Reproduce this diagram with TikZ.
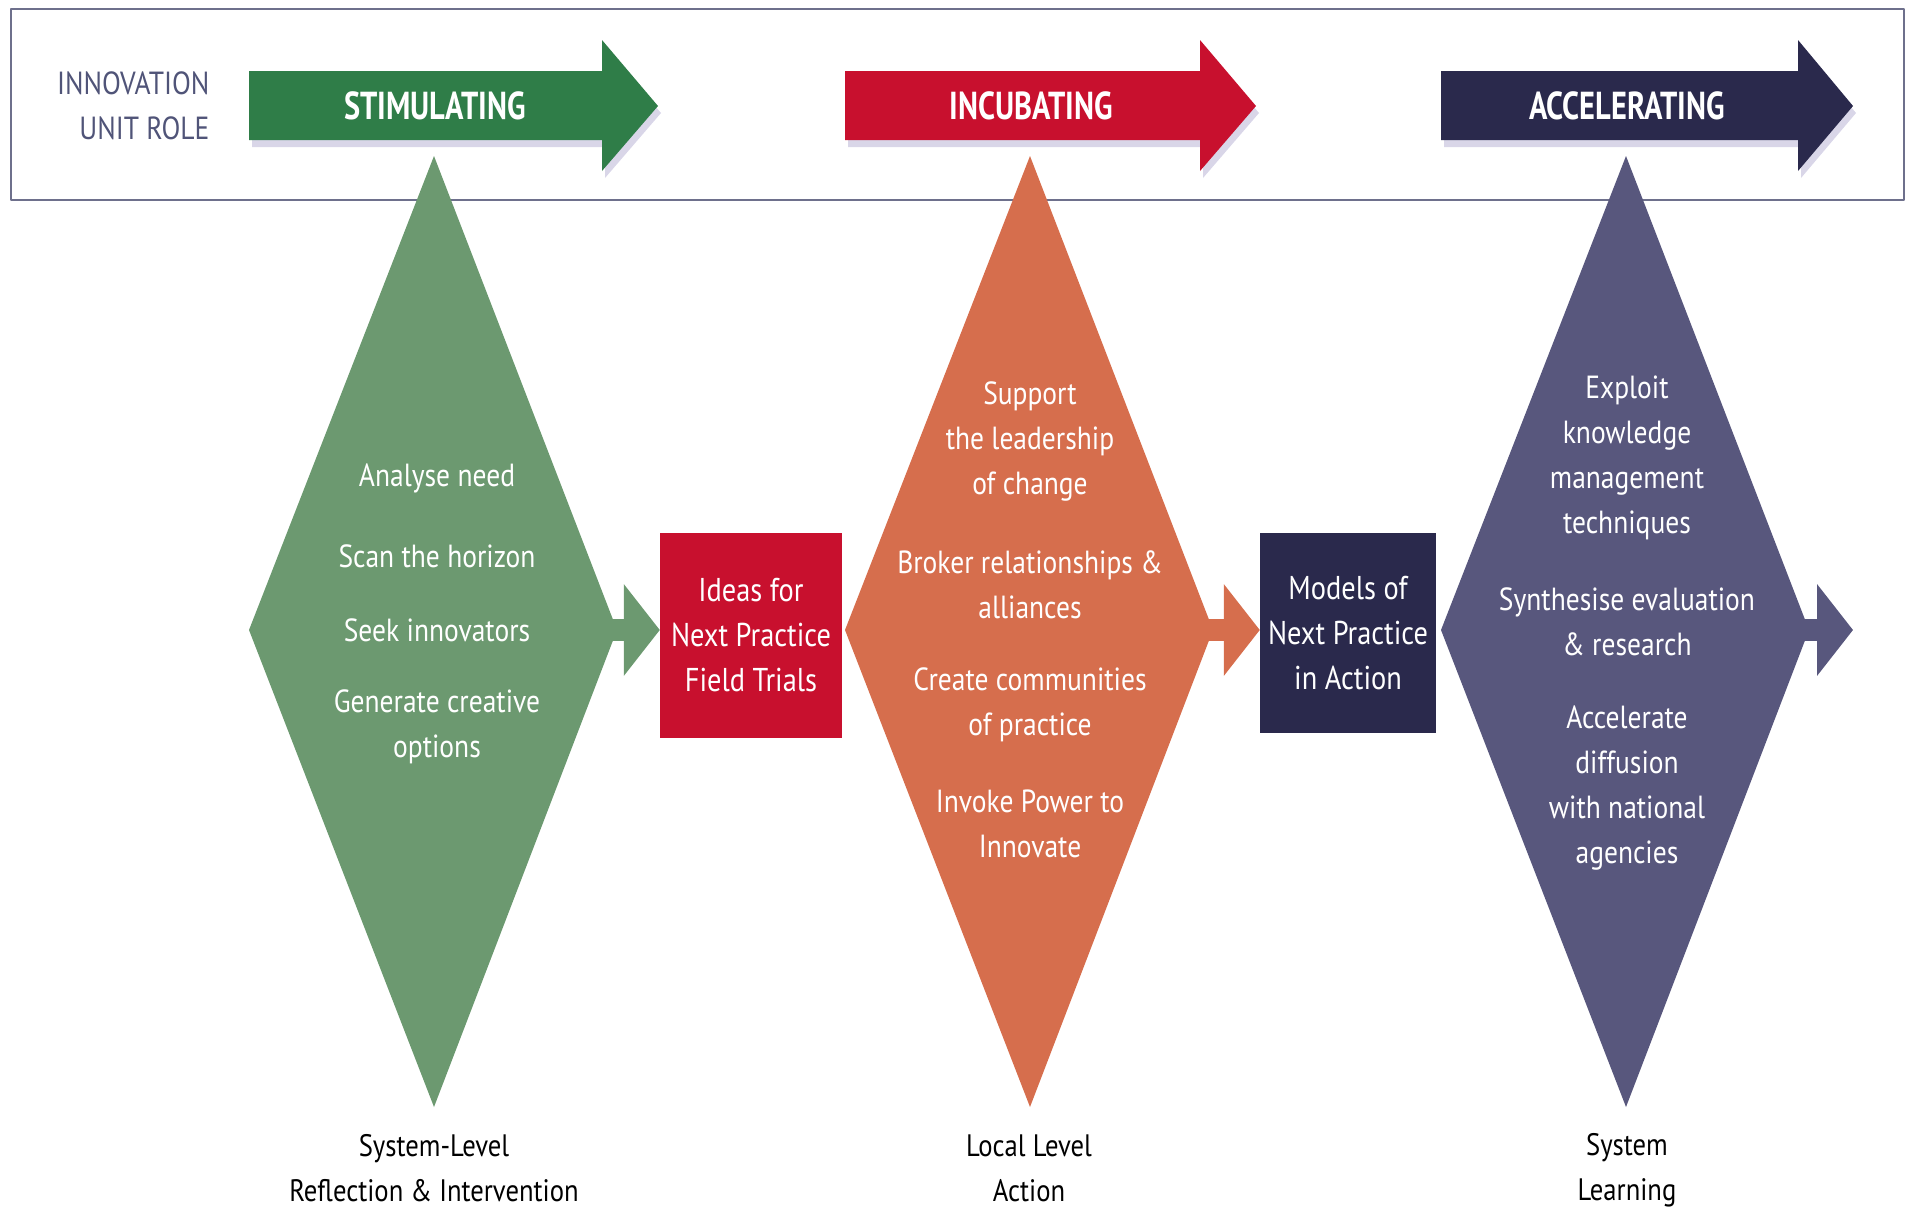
\documentclass[tikz,border=0pt]{standalone}
\usepackage{fontspec}
\setmainfont{PT Sans}[FakeStretch=0.86]
\newfontfamily\rolefont{PT Sans}[FakeStretch=0.78]
\usetikzlibrary{arrows,arrows.meta,shadows}
\definecolor{stimgreen}{RGB}{47,125,72}
\definecolor{stimlight}{RGB}{108,153,112}
\definecolor{incred}{RGB}{200,16,46}
\definecolor{incorange}{RGB}{214,110,77}
\definecolor{accnavy}{RGB}{42,41,76}
\definecolor{accpurple}{RGB}{88,87,125}
\definecolor{rolegray}{RGB}{80,84,120}
\definecolor{framegray}{RGB}{110,112,140}
\definecolor{shadelav}{RGB}{170,165,205}
\begin{document}
\begin{tikzpicture}[line cap=round,line join=round,x=1pt,y=-1pt,
	headshadow/.style={drop shadow={shadow xshift=3pt,shadow yshift=-7pt,opacity=0.45,fill=shadelav}},
	headtext/.style={text=white,font=\rolefont\fontsize{39}{44}\selectfont\bfseries},
	itemtext/.style={text=white,align=center,font=\fontsize{32}{45}\selectfont},
	boxtext/.style={text=white,align=center,font=\fontsize{33}{45}\selectfont},
	basetext/.style={text=black,align=center,font=\fontsize{31}{45}\selectfont},
	smallarrow/.style={line width=22pt,line cap=butt,-{Triangle[length=36pt,width=90pt]}}]
		\useasboundingbox (0,0) rectangle (1907,1210);
		% frame of the role band
		\draw [line width=2pt,color=framegray] (11,9) rectangle (1904,200);
		\node[text=rolegray,align=right,anchor=east,font=\fontsize{32}{45}\selectfont] (role) at (213,106) {INNOVATION\\UNIT ROLE};
		% diamonds
		\coordinate (gt) at (434,156); \coordinate (gb) at (434,1107);
		\coordinate (gw) at (249,630); \coordinate (ge) at (617,630);
		\coordinate (ot) at (1030,156); \coordinate (ob) at (1030,1107);
		\coordinate (ow) at (845,630); \coordinate (oe) at (1213,630);
		\coordinate (pt) at (1626,156); \coordinate (pb) at (1626,1107);
		\coordinate (pw) at (1441,630); \coordinate (pe) at (1809,630);
		\fill[stimlight] (gt) -- (ge) -- (gb) -- (gw) -- cycle;
		\fill[incorange] (ot) -- (oe) -- (ob) -- (ow) -- cycle;
		\fill[accpurple] (pt) -- (pe) -- (pb) -- (pw) -- cycle;
		% header arrows
		\fill[stimgreen,headshadow] (249,71) -- (602,71) -- (602,40) -- (658,106) -- (602,171) -- (602,140) -- (249,140) -- cycle;
		\fill[incred,headshadow] (845,71) -- (1200,71) -- (1200,40) -- (1256,106) -- (1200,171) -- (1200,140) -- (845,140) -- cycle;
		\fill[accnavy,headshadow] (1441,71) -- (1798,71) -- (1798,40) -- (1853,106) -- (1798,171) -- (1798,140) -- (1441,140) -- cycle;
		\node[headtext] (stim) at (435,106) {STIMULATING};
		\node[headtext] (incub) at (1031,106) {INCUBATING};
		\node[headtext] (accel) at (1627,106) {ACCELERATING};
		% boxes
		\node[fill=incred,minimum width=182pt,minimum height=205pt,inner sep=0pt] (ideas) at (751,635.5) {};
		\node[boxtext] at (ideas) {Ideas for\\Next Practice\\Field Trials};
		\node[fill=accnavy,minimum width=176pt,minimum height=200pt,inner sep=0pt] (models) at (1348,633) {};
		\node[boxtext] at (models) {Models of\\Next Practice\\in Action};
		% small arrows
		\coordinate (gs) at (597,630);
		\coordinate (os) at (1193,630);
		\coordinate (ps) at (1789,630);
		\coordinate (pend) at (1853,630);
		\draw[smallarrow,stimlight] (gs) -- (ideas.west |- gs);
		\draw[smallarrow,incorange] (os) -- (models.west |- os);
		\draw[smallarrow,accpurple] (ps) -- (pend);
		% texts in the diamonds
		\node[itemtext] (g1) at (437,478) {Analyse need};
		\node[itemtext] (g2) at (437,556) {Scan the horizon};
		\node[itemtext] (g3) at (437,630) {Seek innovators};
		\node[itemtext] (g4) at (437,727) {Generate creative\\options};
		\node[itemtext] (o1) at (1030,441) {Support\\the leadership\\of change};
		\node[itemtext] (o2) at (1030,585) {Broker relationships \&\\alliances};
		\node[itemtext] (o3) at (1030,705) {Create communities\\of practice};
		\node[itemtext] (o4) at (1030,824) {Invoke Power to\\Innovate};
		\node[itemtext] (p1) at (1627,458) {Exploit\\knowledge\\management\\techniques};
		\node[itemtext] (p2) at (1627,622) {Synthesise evaluation\\\& research};
		\node[itemtext] (p3) at (1627,788) {Accelerate\\diffusion\\with national\\agencies};
		% levels under the diamonds
		\node[basetext] (lv1) at (434,1168) {System-Level\\Reflection \& Intervention};
		\node[basetext] (lv2) at (1029,1168) {Local Level\\Action};
		\node[basetext] (lv3) at (1627,1170) {System\\Learning};
	\end{tikzpicture}
\end{document}
